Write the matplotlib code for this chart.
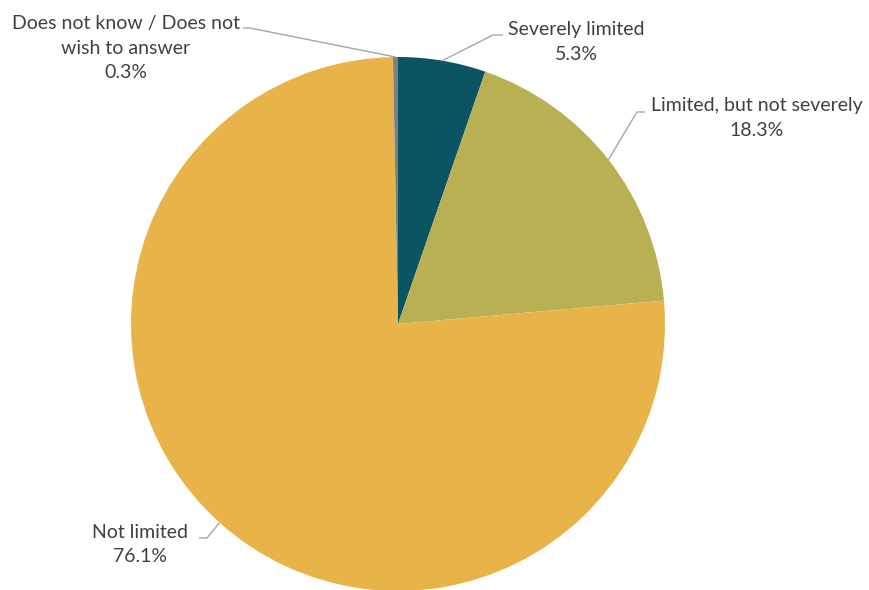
import numpy as np
import matplotlib.pyplot as plt

labels = ["Severely limited", "Limited, but not severely", "Not limited",
          "Does not know / Does not\nwish to answer"]
values = [5.3, 18.3, 76.1, 0.3]
colors = ["#0B5563", "#B8B053", "#E8B44A", "#7F7F7F"]

W, H = 869, 590
cx, cy, r = 398, 324, 267

plt.rcParams["font.family"] = ["Lato", "DejaVu Sans"]

fig = plt.figure(figsize=(W / 100, H / 100), dpi=100)
ax = fig.add_axes([0, 0, 1, 1])

ax.pie(values, colors=colors, startangle=90, counterclock=False,
       center=(cx, H - cy), radius=r, frame=True,
       wedgeprops=dict(linewidth=0))
ax.set_xlim(0, W)
ax.set_ylim(0, H)
ax.set_aspect("equal")
ax.axis("off")

# label block centre (px), elbow point (px), end of short horizontal (px)
layout = [
    ((576, 42), (493, 35), (503, 35)),
    ((757, 118), (637, 112), (645, 112)),
    ((140, 545), (207, 538), (199, 538)),
    ((126, 48), (250, 28), (243, 28)),
]

total = sum(values)
cum = 0
for lab, val, (tpos, elbow, hend) in zip(labels, values, layout):
    mid = 90 - (cum + val / 2) / total * 360
    cum += val
    ex = cx + r * np.cos(np.radians(mid))
    ey = H - cy + r * np.sin(np.radians(mid))
    ax.plot([ex, elbow[0], hend[0]], [ey, H - elbow[1], H - hend[1]],
            color="#A6A6A6", lw=1.0, solid_capstyle="butt")
    ax.text(tpos[0], H - tpos[1], f"{lab}\n{val:.1f}%", ha="center", va="center",
            fontsize=14, color="#404040", linespacing=1.5)

fig.savefig("out.png", dpi=100)
plt.close(fig)
